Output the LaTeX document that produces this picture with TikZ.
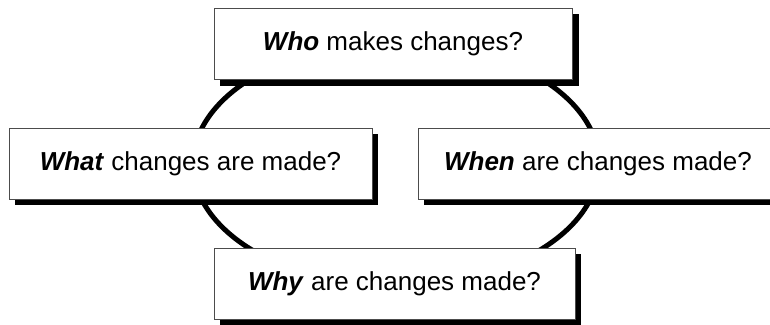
\documentclass[tikz,border=0pt]{standalone}
\usepackage{fontspec}
\setmainfont{Liberation Sans}
\begin{document}
\begin{tikzpicture}[x=1pt,y=-1pt,
  qbox/.style={draw=black!70, line width=0.8pt, fill=white, minimum height=71pt, inner sep=0pt, font=\fontsize{26}{30}\selectfont}]
\useasboundingbox (0,0) rectangle (770,324);
\begin{scope}
\clip (0,0) rectangle (770,324);
\draw[line width=5pt] (396,164) ellipse [x radius=203, y radius=122];
% shadows
\fill (220,14) rectangle (579,86);
\fill (15,134) rectangle (378,205);
\fill (424,134) rectangle (784,205);
\fill (220,254) rectangle (581,325);
\node[qbox, minimum width=358pt] (who) at (393,44) {\textbf{\textit{Who}} makes changes?};
\node[qbox, minimum width=363pt] (what) at (190.5,163.5) {\textbf{\textit{What}} changes are made?};
\node[qbox, minimum width=360pt] (when) at (598,163.5) {\textbf{\textit{When}} are changes made?};
\node[qbox, minimum width=361pt] (why) at (394.5,283.5) {\textbf{\textit{Why}} are changes made?};
\end{scope}
\end{tikzpicture}
\end{document}
